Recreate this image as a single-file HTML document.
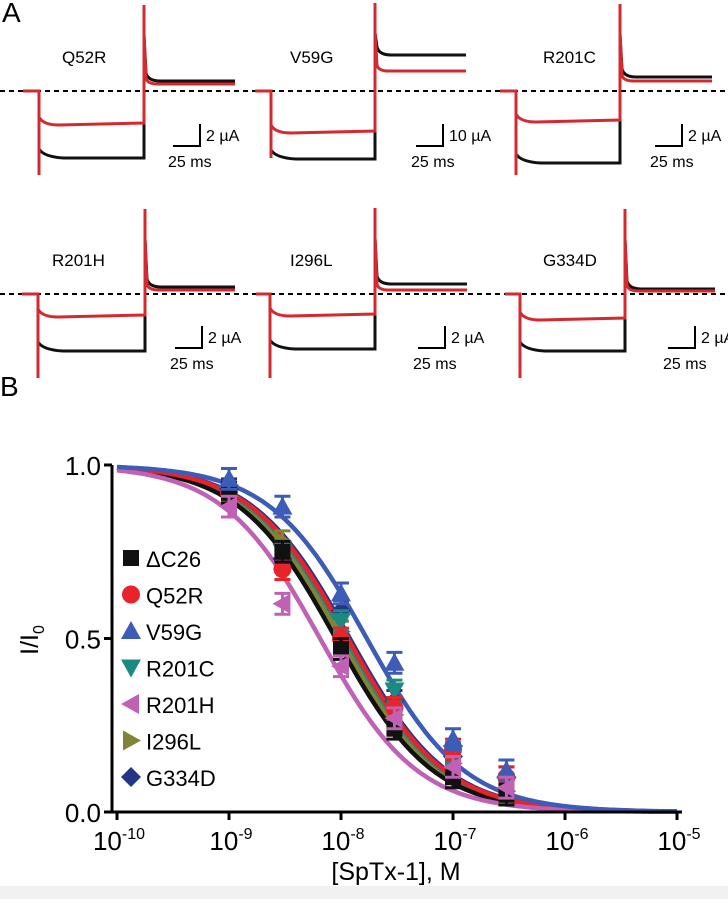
<!DOCTYPE html>
<html><head><meta charset="utf-8"><style>
html,body{margin:0;padding:0;background:#fff}
body{width:728px;height:899px;overflow:hidden;position:relative;font-family:"Liberation Sans",Arial,sans-serif}
svg{position:absolute;left:0;top:0}
</style></head><body>
<svg width="728" height="899" viewBox="0 0 728 899">
  <rect x="0" y="886" width="728" height="13" fill="#f1f1f1"/>
  <text x="2" y="22" font-size="28">A</text>
  <text x="0" y="396" font-size="28">B</text>
  <line x1="0" y1="91" x2="728" y2="91" stroke="#000" stroke-width="2" stroke-dasharray="5,4"/>
  <line x1="0" y1="294" x2="728" y2="294" stroke="#000" stroke-width="2" stroke-dasharray="5,4"/>
  <g id="traces"></g>
  <g id="chart"></g>
</svg>
<script>
const NS='http://www.w3.org/2000/svg';
function mk(tag,attrs,parent){const e=document.createElementNS(NS,tag);for(const k in attrs)e.setAttribute(k,attrs[k]);parent.appendChild(e);return e;}
const traces=document.getElementById('traces');
const panelNames=['Q52R','V59G','R201C','R201H','I296L','G334D'];
const panels=[
 [23,39,144,235,91,125,157,5,175,81,84,173,'2 µA',62],
 [255,271,375,466,91,133,158,3,158,55,71,416,'10 µA',290],
 [500,516,620,712,91,122,162,4,175,77,81,655,'2 µA',543],
 [22,38,145,235,294,317,350,209,378,287,290,175,'2 µA',52],
 [256,270,375,467,294,316,348,208,378,284,290,418,'2 µA',290],
 [505,520,625,715,294,320,350,209,378,289,291,668,'2 µA',543]
];
panels.forEach((p,i)=>{
  const [x0,xs,xe,xf,b,rl,bl,top,bot,bt,rt,sx,sl,lx]=p;
  const g=mk('g',{},traces);
  
  
  const t=mk('text',{x:lx,y:b-28,'font-size':17},g);t.textContent=panelNames[i];
  
  
  const bp=`M${x0},${b} H${xs} V${bl-8} Q${xs+5},${bl} ${xs+25},${bl+1} H${xe} V${top+30} L${xe+2},${bt-8} Q${xe+4},${bt} ${xe+16},${bt} H${xf}`;
  const pb=mk('path',{d:bp,fill:'none',stroke:'#111','stroke-width':3},g);
  
  
  const rp=`M${x0},${b} H${xs} V${bot} M${xs},${rl-8} Q${xs+4},${rl} ${xs+20},${rl} L${xe},${rl-2} V${top} M${xe},${top+30} L${xe+2},${rt-6} Q${xe+3},${rt} ${xe+14},${rt} H${xf}`;
  const pr=mk('path',{d:rp,fill:'none',stroke:'#d42a2f','stroke-width':3},g);
  
  
  const sy=b+(b===91?55:54);
  const s=mk('path',{d:`M${sx},${sy} H${sx+27} V${sy-22}`,fill:'none',stroke:'#000','stroke-width':2},g);
  
  
  const t1=mk('text',{x:sx+33,y:sy-5,'font-size':16},g);t1.textContent=sl;
  
  
  const t2=mk('text',{x:sx-5,y:sy+21,'font-size':16},g);t2.textContent='25 ms';
  
  
});

// ---- chart data ----
const concentrations=[1e-9,3e-9,1e-8,3e-8,1e-7,3e-7];
const seriesNames=['ΔC26','Q52R','V59G','R201C','R201H','I296L','G334D'];
const vDC26=[0.92,0.75,0.47,0.24,0.10,0.05];
const vQ52R=[0.92,0.70,0.50,0.30,0.18,0.10];
const vV59G=[0.96,0.88,0.63,0.43,0.21,0.12];
const vR201C=[0.92,0.75,0.55,0.35,0.17,0.08];
const vR201H=[0.88,0.60,0.42,0.27,0.13,0.07];
const vI296L=[0.91,0.78,0.52,0.28,0.14,0.06];
const vG334D=[0.93,0.73,0.58,0.32,0.16,0.10];
const ic50s=[9e-9,1.15e-8,1.7e-8,1.1e-8,6.5e-9,1.0e-8,1.2e-8];
const yTicks=[0,0.5,1.0];
const yTickLabels=['0.0','0.5','1.0'];
const xTickExps=[-10,-9,-8,-7,-6,-5];

const allVals=[vDC26,vQ52R,vV59G,vR201C,vR201H,vI296L,vG334D];
const colors=['#111111','#e8232a','#3d5cb8','#1b8a82','#c061b6','#7f8534','#253585'];
const shapes=['square','circle','up','down','left','right','diamond'];
const X0=117,DEC=112,Y0=812,Y1=465;
const xs=c=>X0+(Math.log10(c)+10)*DEC;
const ys=v=>Y0-v*(Y0-Y1);
const chart=document.getElementById('chart');

function marker(g,shape,cx,cy,r,col){
  let e;
  if(shape==='square')e=mk('rect',{x:cx-r,y:cy-r,width:2*r,height:2*r,fill:col},g);
  else if(shape==='circle')e=mk('circle',{cx:cx,cy:cy,r:r+1,fill:col},g);
  else{let pts;
    if(shape==='up')pts=[[cx,cy-r-2],[cx-r-2,cy+r],[cx+r+2,cy+r]];
    if(shape==='down')pts=[[cx,cy+r+2],[cx-r-2,cy-r],[cx+r+2,cy-r]];
    if(shape==='left')pts=[[cx-r-2,cy],[cx+r,cy-r-2],[cx+r,cy+r+2]];
    if(shape==='right')pts=[[cx+r+2,cy],[cx-r,cy-r-2],[cx-r,cy+r+2]];
    if(shape==='diamond')pts=[[cx,cy-r-2],[cx+r+2,cy],[cx,cy+r+2],[cx-r-2,cy]];
    e=mk('polygon',{points:pts.map(p=>p.join(',')).join(' '),fill:col},g);}
  return e;
}

const curveOrder=[5,3,6,0,1,4,2];
curveOrder.forEach(i=>{
  let d='';
  for(let k=0;k<=200;k++){const lc=-10+k*5/200;const c=Math.pow(10,lc);const v=1/(1+c/ic50s[i]);d+=(k?'L':'M')+xs(c).toFixed(1)+','+ys(v).toFixed(1);}
  const p=mk('path',{d:d,fill:'none',stroke:colors[i],'stroke-width':4.5},chart);
  
  
});
[6,5,3,1,0,2,4].forEach(i=>{
  const g=mk('g',{},chart);
  
  
  allVals[i].forEach((v,j)=>{
    const cx=xs(concentrations[j]),cy=ys(v);
    const eb=mk('path',{d:`M${cx},${ys(v+0.03)} V${ys(v-0.03)} M${cx-8},${ys(v+0.03)} H${cx+8} M${cx-8},${ys(v-0.03)} H${cx+8}`,stroke:colors[i],'stroke-width':3,fill:'none'},g);
    
    
    const m=marker(g,shapes[i],cx,cy,8,colors[i]);
    
    
  });
});
const ax=mk('path',{d:`M112,${Y1} V${Y0} H682`,fill:'none',stroke:'#000','stroke-width':3},chart);


yTicks.forEach((v,i)=>{
  const tk=mk('line',{x1:104,x2:112,y1:ys(v),y2:ys(v),stroke:'#000','stroke-width':3},chart);
  
  
  const t=mk('text',{x:101,y:ys(v)+10,'font-size':26,'text-anchor':'end'},chart);t.textContent=yTickLabels[i];
  
  
});
xTickExps.forEach(e=>{
  const x=xs(Math.pow(10,e));
  const tk=mk('line',{x1:x,x2:x,y1:Y0,y2:Y0+8,stroke:'#000','stroke-width':3},chart);
  
  
  const t=mk('text',{x:x+2,y:Y0+38,'font-size':26,'text-anchor':'middle'},chart);
  
  
  const a=mk('tspan',{},t);a.textContent='10';
  const b=mk('tspan',{dy:-11,'font-size':16},t);b.textContent=String(e);
});
const xt=mk('text',{x:396,y:880,'font-size':25,'text-anchor':'middle'},chart);xt.textContent='[SpTx-1], M';


const yt=mk('text',{transform:'translate(38,640) rotate(-90)','font-size':25,'text-anchor':'middle'},chart);


const ya=mk('tspan',{},yt);ya.textContent='I/I';
const yb=mk('tspan',{dy:6,'font-size':16},yt);yb.textContent='0';
seriesNames.forEach((n,i)=>{
  const y=558+i*36.5;
  const g=mk('g',{},chart);
  
  
  marker(g,shapes[i],131,y,8,colors[i]);
  const t=mk('text',{x:146,y:y+9,'font-size':22},g);t.textContent=n;
});
</script>
</body></html>
